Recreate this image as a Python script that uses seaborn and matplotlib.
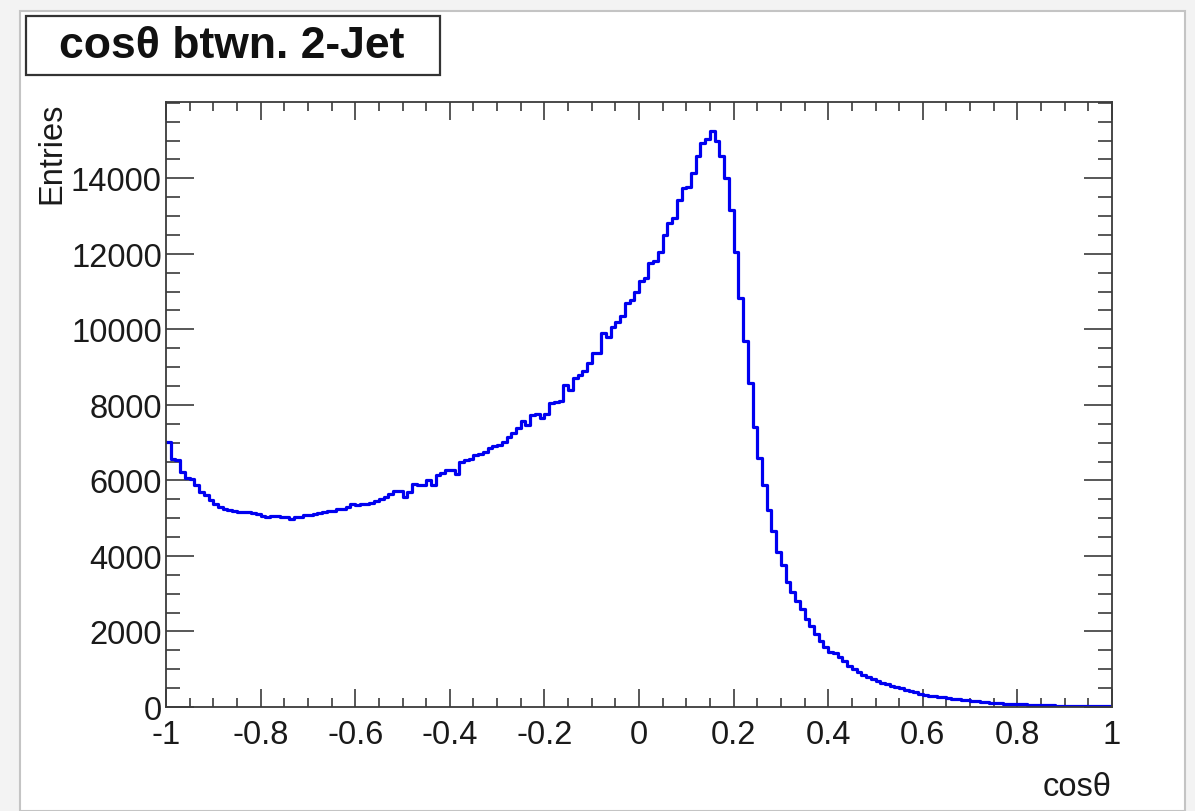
import numpy as np
import pandas as pd
import matplotlib
matplotlib.use("Agg")
import matplotlib.pyplot as plt
import seaborn as sns
from matplotlib.patches import Rectangle
from matplotlib.ticker import MultipleLocator

# ================= data =================
title_text = "cosθ btwn. 2-Jet"
x_title = "cosθ"
y_title = "Entries"
x_range = (-1.0, 1.0)
n_bins = 200

# entries per bin (bin width 0.01, from -1 to 1)
counts = [
    7020, 6560, 6540, 6225, 6060, 6040, 5870, 5695, 5605, 5475,
    5385, 5297, 5250, 5208, 5200, 5165, 5160, 5170, 5150, 5100,
    5060, 5030, 5070, 5050, 5020, 5040, 4990, 5020, 5040, 5090,
    5080, 5120, 5150, 5170, 5200, 5190, 5230, 5250, 5300, 5370,
    5360, 5370, 5380, 5400, 5450, 5500, 5550, 5650, 5710, 5730,
    5560, 5700, 5900, 5870, 5880, 6010, 5890, 6140, 6200, 6270,
    6280, 6180, 6490, 6530, 6580, 6660, 6700, 6750, 6850, 6900,
    6950, 7020, 7150, 7250, 7380, 7560, 7460, 7730, 7760, 7650,
    7750, 8040, 8080, 8100, 8520, 8400, 8700, 8790, 8900, 9100,
    9370, 9380, 9900, 9810, 10050, 10200, 10350, 10690, 10780, 11000,
    11270, 11350, 11750, 11800, 12060, 12500, 12820, 12950, 13430, 13740,
    13760, 14140, 14580, 14940, 15050, 15250, 14980, 14580, 14010, 13170,
    12045, 10824, 9692, 8570, 7420, 6600, 5870, 5226, 4650, 4100,
    3770, 3300, 3040, 2800, 2600, 2335, 2157, 1937, 1760, 1584,
    1460, 1440, 1318, 1229, 1096, 1000, 937, 849, 788, 740,
    698, 637, 600, 565, 530, 496, 451, 420, 390, 345,
    320, 300, 290, 273, 255, 231, 220, 208, 194, 180,
    166, 151, 140, 126, 118, 110, 98, 92, 85, 78,
    72, 68, 62, 58, 53, 50, 46, 42, 38, 35,
    33, 31, 29, 27, 25, 23, 21, 19, 17, 15,
]

x_ticks = [-1, -0.8, -0.6, -0.4, -0.2, 0, 0.2, 0.4, 0.6, 0.8, 1]
x_ticklabels = ["-1", "-0.8", "-0.6", "-0.4", "-0.2", "0", "0.2", "0.4", "0.6", "0.8", "1"]
y_ticks = [0, 2000, 4000, 6000, 8000, 10000, 12000, 14000]
y_max = 16020

edges = np.linspace(x_range[0], x_range[1], n_bins + 1)
df = pd.DataFrame({"cos": (edges[:-1] + edges[1:]) / 2, "n": counts})

# ================= style =================
sns.set_style("ticks")
plt.rcParams['font.family'] = ['Liberation Sans', 'DejaVu Sans']
plt.rcParams['axes.unicode_minus'] = False

W, H = 1195, 812
fig = plt.figure(figsize=(W / 100, H / 100), dpi=100)
fig.patch.set_facecolor('#f3f3f3')

# white canvas with light frame (behind everything)
fig.patches.append(Rectangle((20 / W, 0), (1185 - 20) / W, 1 - 12 / H,
                             transform=fig.transFigure, facecolor='white',
                             edgecolor='#c4c4c4', linewidth=1.5, zorder=-5))

ax = fig.add_axes([166 / W, 1 - 708 / H, (1112 - 166) / W, (708 - 103) / H])
ax.set_facecolor('white')

sns.histplot(data=df, x="cos", weights="n", bins=n_bins, binrange=x_range,
             element="step", fill=False, color='#0000f0', linewidth=2.3, ax=ax)

ax.set_xlim(*x_range)
ax.set_ylim(0, y_max)

ax.set_xticks(x_ticks)
ax.set_xticklabels(x_ticklabels)
ax.set_yticks(y_ticks)
ax.set_yticklabels([str(v) for v in y_ticks])
ax.xaxis.set_minor_locator(MultipleLocator(0.05))
ax.yaxis.set_minor_locator(MultipleLocator(500))

ax.tick_params(axis='both', which='both', direction='in', top=True, right=True,
               colors='#2a2a2a', labelcolor='#1a1a1a', width=1.1, labelsize=23.5)
ax.tick_params(axis='x', which='major', length=13, pad=8.5)
ax.tick_params(axis='x', which='minor', length=6.5)
ax.tick_params(axis='y', which='major', length=20, pad=3)
ax.tick_params(axis='y', which='minor', length=10)

for s in ax.spines.values():
    s.set_color('#3a3a3a')
    s.set_linewidth(1.3)

ax.set_xlabel(x_title, fontsize=23.5, loc='right', color='#1a1a1a')
ax.xaxis.set_label_coords(1.0, -0.106)
ax.set_ylabel(y_title, fontsize=23.5, loc='top', color='#1a1a1a')
ax.yaxis.set_label_coords(-0.104, 1.0)

# title box
fig.patches.append(Rectangle((26 / W, 1 - 76 / H), (440 - 26) / W, (76 - 17) / H,
                             transform=fig.transFigure, facecolor='white',
                             edgecolor='#333333', linewidth=1.6, zorder=2))
fig.text(232 / W, 1 - 47 / H, title_text, ha='center', va='center',
         fontsize=32, fontweight='bold', color='#111111', zorder=3)

fig.savefig("out.png", dpi=100, facecolor=fig.get_facecolor())
